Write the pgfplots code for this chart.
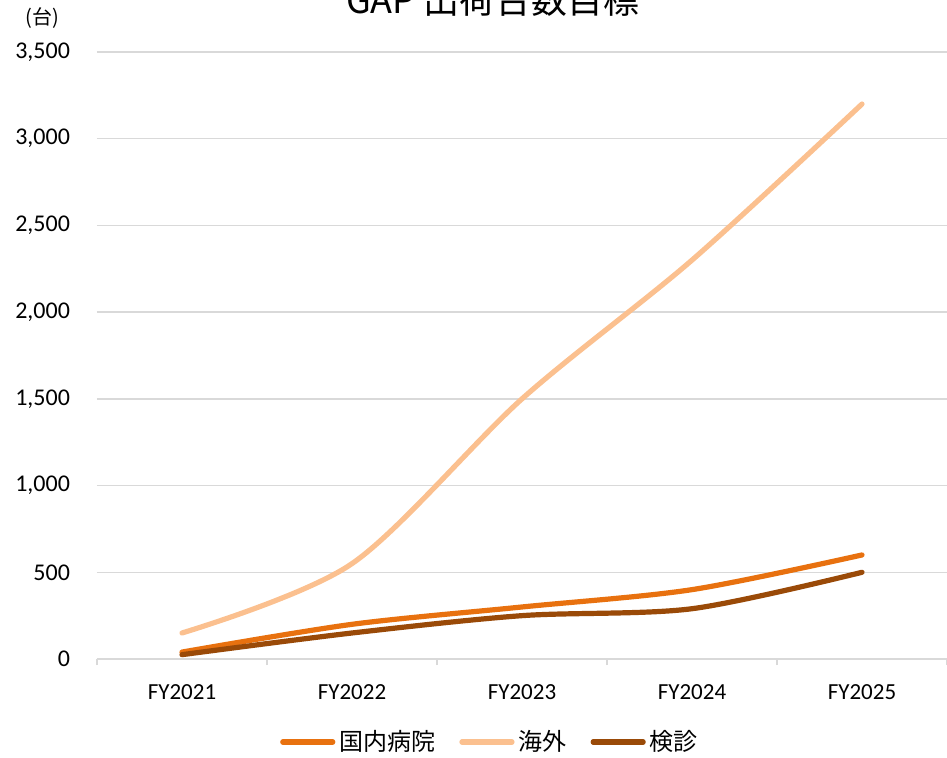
\documentclass[border=0pt]{standalone}
\usepackage{fontspec}
\setmainfont{Carlito}
\newfontfamily\cjk{Noto Sans CJK JP}
\usepackage{pgfplots}
\pgfplotsset{compat=1.18}
\definecolor{cA}{HTML}{E8710F}
\definecolor{cB}{HTML}{FBC08F}
\definecolor{cC}{HTML}{9A4A08}
\definecolor{gridc}{HTML}{D9D9D9}
\begin{document}
\begin{tikzpicture}[x=1pt,y=1pt]
\begin{axis}[
  at={(0pt,0pt)}, anchor=south west,
  scale only axis, width=425pt, height=303.5pt,
  xmin=-0.5, xmax=4.5, ymin=0, ymax=3500,
  axis x line*=bottom, axis y line*=left,
  x axis line style={draw=gridc, line width=0.75pt, -},
  y axis line style={draw=none},
  xtick={0,1,2,3,4},
  xticklabels={FY2021,FY2022,FY2023,FY2024,FY2025},
  major x tick style={draw=none},
  minor xtick={-0.5,0.5,1.5,2.5,3.5,4.5},
  minor x tick style={draw=gridc, line width=0.75pt},
  minor tick length=3pt,
  xtick align=outside,
  xticklabel style={font=\fontsize{11.5}{13}\selectfont, yshift=-5pt},
  ytick={0,500,...,3500},
  major y tick style={draw=none},
  yticklabel={\pgfmathprintnumber[assume math mode=true,1000 sep={,}]{\tick}},
  yticklabel style={font=\fontsize{12}{14}\selectfont, xshift=-10pt},
  ymajorgrids, major grid style={draw=gridc, line width=0.75pt},
  clip=false,
  legend columns=3,
  legend style={draw=none, at={(0.4635,-0.1367)}, anchor=center, font=\cjk\fontsize{12}{14}\selectfont,
    /tikz/every even column/.append style={column sep=10pt}},
  legend image code/.code={\draw[#1, line cap=round] (0pt,0pt) -- (25pt,0pt);},
  every axis plot/.append style={line width=2.6pt, line cap=round, smooth, tension=0.5},
]
\addplot[cA] coordinates {(0,40) (1,200) (2,300) (3,400) (4,600)};
\addlegendentry{国内病院}
\addplot[cB] coordinates {(0,150) (1,550) (2,1500) (3,2300) (4,3200)};
\addlegendentry{海外}
\addplot[cC] coordinates {(0,25) (1,150) (2,250) (3,290) (4,500)};
\addlegendentry{検診}
\end{axis}
\node[font=\cjk\fontsize{18}{20}\selectfont, anchor=base] at (198pt,323pt) {GAP 出荷台数目標};
\node[font=\cjk\fontsize{10}{12}\selectfont] at (-27.5pt,320.5pt) {(台)};
\pgfresetboundingbox
\path[use as bounding box] (-48.5pt,-49pt) rectangle (425pt,329.5pt);
\end{tikzpicture}
\end{document}
